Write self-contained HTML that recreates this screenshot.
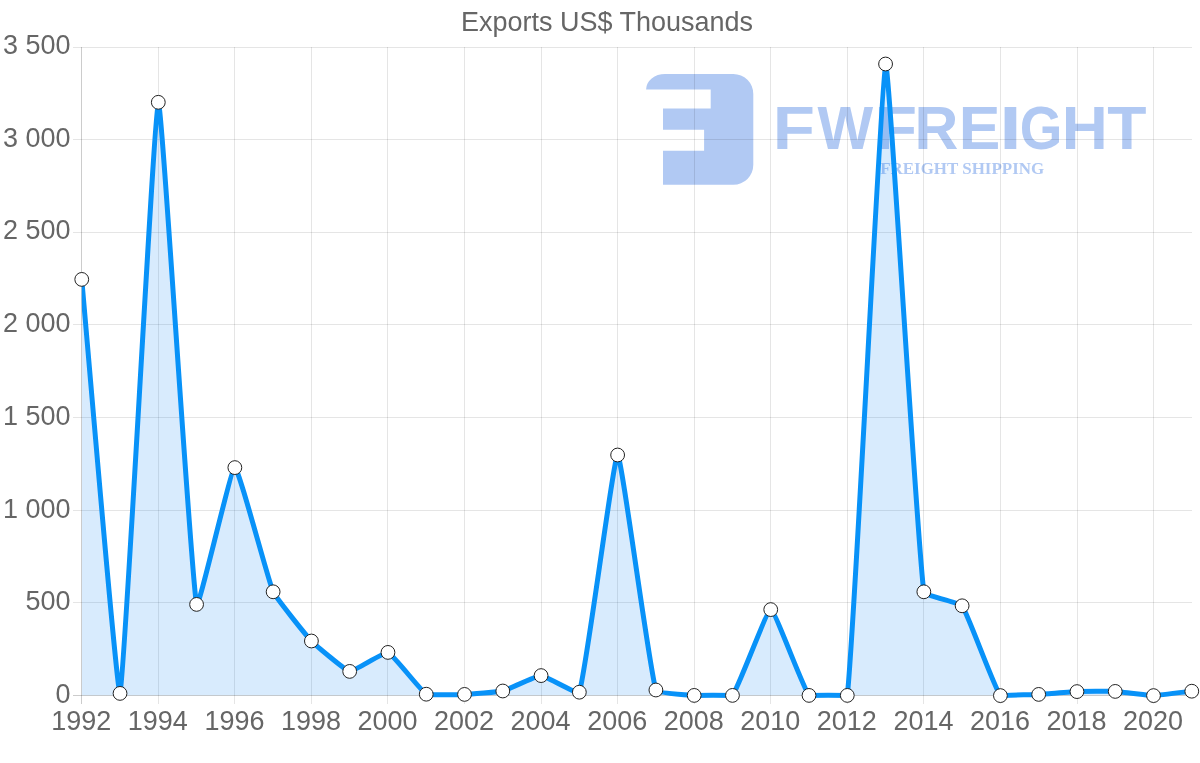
<!DOCTYPE html>
<html lang="en"><head><meta charset="utf-8"><title>Exports US$ Thousands</title>
<style>html,body{margin:0;padding:0;background:#fff;}body{width:1200px;height:763px;overflow:hidden;}svg{display:block;}text{font-family:"Liberation Sans",sans-serif;}</style></head><body>
<svg width="1200" height="763" viewBox="0 0 1200 763">
<rect width="1200" height="763" fill="#fff"/>
<g id="logo" fill="#b1c9f3">
<path d="M646.1 89.4 A19 15.5 0 0 1 665.1 73.9 L733.3 73.9 A20 20 0 0 1 753.3 93.9 L753.3 164.8 A20 20 0 0 1 733.3 184.8 L663 184.8 L663 150.8 L704.1 150.8 L704.1 129.7 L663 129.7 L663 108.6 L710.7 108.6 L710.7 89.4 Z"/>
<text id="lg1" y="149.1" font-size="61.8" font-weight="bold" style="font-family:'Liberation Sans',sans-serif"><tspan x="772.87" textLength="42.18" lengthAdjust="spacingAndGlyphs">F</tspan><tspan x="817.44" textLength="55.62" lengthAdjust="spacingAndGlyphs">W</tspan><tspan x="874.3" textLength="42.9" lengthAdjust="spacingAndGlyphs">F</tspan><tspan x="914.43" textLength="43.84" lengthAdjust="spacingAndGlyphs">R</tspan><tspan x="958.82" textLength="41.61" lengthAdjust="spacingAndGlyphs">E</tspan><tspan x="999.3" textLength="22.39" lengthAdjust="spacingAndGlyphs">I</tspan><tspan x="1019.75" textLength="42.65" lengthAdjust="spacingAndGlyphs">G</tspan><tspan x="1061.73" textLength="46.05" lengthAdjust="spacingAndGlyphs">H</tspan><tspan x="1107.29" textLength="39.21" lengthAdjust="spacingAndGlyphs">T</tspan></text>
<text id="lg2" x="880.2" y="173.8" font-size="16.6" font-weight="bold" textLength="164" lengthAdjust="spacingAndGlyphs" style="font-family:'Liberation Serif',serif">FREIGHT SHIPPING</text>
</g>
<g id="grid" shape-rendering="crispEdges" stroke-width="1" fill="none">
<line x1="73" x2="1191.78" y1="695.5" y2="695.5" stroke="rgba(0,0,0,0.2)"/>
<line x1="73" x2="1191.78" y1="602.5" y2="602.5" stroke="rgba(0,0,0,0.1)"/>
<line x1="73" x2="1191.78" y1="510.5" y2="510.5" stroke="rgba(0,0,0,0.1)"/>
<line x1="73" x2="1191.78" y1="417.5" y2="417.5" stroke="rgba(0,0,0,0.1)"/>
<line x1="73" x2="1191.78" y1="324.5" y2="324.5" stroke="rgba(0,0,0,0.1)"/>
<line x1="73" x2="1191.78" y1="232.5" y2="232.5" stroke="rgba(0,0,0,0.1)"/>
<line x1="73" x2="1191.78" y1="139.5" y2="139.5" stroke="rgba(0,0,0,0.1)"/>
<line x1="73" x2="1191.78" y1="47.5" y2="47.5" stroke="rgba(0,0,0,0.1)"/>
<line x1="81.5" x2="81.5" y1="47.3" y2="703.5" stroke="rgba(0,0,0,0.2)"/>
<line x1="158.5" x2="158.5" y1="47.3" y2="703.5" stroke="rgba(0,0,0,0.1)"/>
<line x1="234.5" x2="234.5" y1="47.3" y2="703.5" stroke="rgba(0,0,0,0.1)"/>
<line x1="311.5" x2="311.5" y1="47.3" y2="703.5" stroke="rgba(0,0,0,0.1)"/>
<line x1="387.5" x2="387.5" y1="47.3" y2="703.5" stroke="rgba(0,0,0,0.1)"/>
<line x1="464.5" x2="464.5" y1="47.3" y2="703.5" stroke="rgba(0,0,0,0.1)"/>
<line x1="541.5" x2="541.5" y1="47.3" y2="703.5" stroke="rgba(0,0,0,0.1)"/>
<line x1="617.5" x2="617.5" y1="47.3" y2="703.5" stroke="rgba(0,0,0,0.1)"/>
<line x1="694.5" x2="694.5" y1="47.3" y2="703.5" stroke="rgba(0,0,0,0.1)"/>
<line x1="770.5" x2="770.5" y1="47.3" y2="703.5" stroke="rgba(0,0,0,0.1)"/>
<line x1="847.5" x2="847.5" y1="47.3" y2="703.5" stroke="rgba(0,0,0,0.1)"/>
<line x1="923.5" x2="923.5" y1="47.3" y2="703.5" stroke="rgba(0,0,0,0.1)"/>
<line x1="1000.5" x2="1000.5" y1="47.3" y2="703.5" stroke="rgba(0,0,0,0.1)"/>
<line x1="1077.5" x2="1077.5" y1="47.3" y2="703.5" stroke="rgba(0,0,0,0.1)"/>
<line x1="1153.5" x2="1153.5" y1="47.3" y2="703.5" stroke="rgba(0,0,0,0.1)"/>
</g>
<clipPath id="clip"><rect x="81.75" y="44.3" width="1120.03" height="654.05"/></clipPath>
<g clip-path="url(#clip)">
<path d="M81.75 279.4 C85.58 320.8 116.87 695.35 120.03 693.4 C124.53 682.99 154.17 107.11 158.3 102.3 C161.82 98.21 190.61 575.91 196.58 604.4 C198.27 612.44 230.86 468.26 234.86 467.6 C238.52 467 267.96 580.08 273.13 591.8 C275.62 597.42 307.12 636.54 311.41 641 C314.78 644.5 345.6 670.79 349.69 671.4 C353.26 671.93 384.68 651.42 387.97 652.4 C392.33 653.7 421.67 691.69 426.24 694.2 C429.33 695.35 460.7 694.56 464.52 694.4 C468.36 694.24 499.11 691.91 502.8 691 C506.76 690.03 537.27 675.54 541.07 675.6 C544.92 675.66 578.22 695.35 579.35 692.2 C585.87 673.4 613.78 455.11 617.63 455 C621.44 454.89 649.32 669.32 655.9 690 C656.97 693.36 690.34 695.13 694.18 695.4 C697.99 695.35 730.24 695.35 732.46 695.4 C737.9 689.3 766.91 609.6 770.74 609.6 C774.56 609.6 803.57 689.3 809.01 695.4 C811.23 695.35 846.85 695.35 847.29 695.4 C854.51 635.86 881.4 69.64 885.57 64 C889.05 59.28 916.74 541.49 923.84 591.8 C924.39 595.67 959.87 602.74 962.12 605.8 C967.52 613.12 994.9 689.24 1000.4 695.6 C1002.56 695.35 1034.85 694.6 1038.68 694.4 C1042.51 694.2 1073.12 691.75 1076.95 691.6 C1080.77 691.45 1111.41 691.2 1115.23 691.4 C1119.07 691.6 1149.68 695.35 1153.51 695.6 C1157.33 695.35 1187.96 691.64 1191.78 691.2 L1191.78 695.35 L81.75 695.35 Z" fill="rgba(12,130,245,0.16)" stroke="none"/>
<path d="M81.75 279.4 C85.58 320.8 116.87 695.35 120.03 693.4 C124.53 682.99 154.17 107.11 158.3 102.3 C161.82 98.21 190.61 575.91 196.58 604.4 C198.27 612.44 230.86 468.26 234.86 467.6 C238.52 467 267.96 580.08 273.13 591.8 C275.62 597.42 307.12 636.54 311.41 641 C314.78 644.5 345.6 670.79 349.69 671.4 C353.26 671.93 384.68 651.42 387.97 652.4 C392.33 653.7 421.67 691.69 426.24 694.2 C429.33 695.35 460.7 694.56 464.52 694.4 C468.36 694.24 499.11 691.91 502.8 691 C506.76 690.03 537.27 675.54 541.07 675.6 C544.92 675.66 578.22 695.35 579.35 692.2 C585.87 673.4 613.78 455.11 617.63 455 C621.44 454.89 649.32 669.32 655.9 690 C656.97 693.36 690.34 695.13 694.18 695.4 C697.99 695.35 730.24 695.35 732.46 695.4 C737.9 689.3 766.91 609.6 770.74 609.6 C774.56 609.6 803.57 689.3 809.01 695.4 C811.23 695.35 846.85 695.35 847.29 695.4 C854.51 635.86 881.4 69.64 885.57 64 C889.05 59.28 916.74 541.49 923.84 591.8 C924.39 595.67 959.87 602.74 962.12 605.8 C967.52 613.12 994.9 689.24 1000.4 695.6 C1002.56 695.35 1034.85 694.6 1038.68 694.4 C1042.51 694.2 1073.12 691.75 1076.95 691.6 C1080.77 691.45 1111.41 691.2 1115.23 691.4 C1119.07 691.6 1149.68 695.35 1153.51 695.6 C1157.33 695.35 1187.96 691.64 1191.78 691.2" fill="none" stroke="#0892f8" stroke-width="5" stroke-linejoin="miter" stroke-linecap="butt"/>
</g>
<g id="pts" fill="#fff" stroke="#222" stroke-width="1">
<circle cx="81.75" cy="279.4" r="6.9"/>
<circle cx="120.03" cy="693.4" r="6.9"/>
<circle cx="158.3" cy="102.3" r="6.9"/>
<circle cx="196.58" cy="604.4" r="6.9"/>
<circle cx="234.86" cy="467.6" r="6.9"/>
<circle cx="273.13" cy="591.8" r="6.9"/>
<circle cx="311.41" cy="641" r="6.9"/>
<circle cx="349.69" cy="671.4" r="6.9"/>
<circle cx="387.97" cy="652.4" r="6.9"/>
<circle cx="426.24" cy="694.2" r="6.9"/>
<circle cx="464.52" cy="694.4" r="6.9"/>
<circle cx="502.8" cy="691" r="6.9"/>
<circle cx="541.07" cy="675.6" r="6.9"/>
<circle cx="579.35" cy="692.2" r="6.9"/>
<circle cx="617.63" cy="455" r="6.9"/>
<circle cx="655.9" cy="690" r="6.9"/>
<circle cx="694.18" cy="695.4" r="6.9"/>
<circle cx="732.46" cy="695.4" r="6.9"/>
<circle cx="770.74" cy="609.6" r="6.9"/>
<circle cx="809.01" cy="695.4" r="6.9"/>
<circle cx="847.29" cy="695.4" r="6.9"/>
<circle cx="885.57" cy="64" r="6.9"/>
<circle cx="923.84" cy="591.8" r="6.9"/>
<circle cx="962.12" cy="605.8" r="6.9"/>
<circle cx="1000.4" cy="695.6" r="6.9"/>
<circle cx="1038.68" cy="694.4" r="6.9"/>
<circle cx="1076.95" cy="691.6" r="6.9"/>
<circle cx="1115.23" cy="691.4" r="6.9"/>
<circle cx="1153.51" cy="695.6" r="6.9"/>
<circle cx="1191.78" cy="691.2" r="6.9"/>
</g>
<g id="labels" fill="#666" font-size="26.9">
<text transform="translate(607 30.7) scale(1.003 1)" text-anchor="middle">Exports US$ Thousands</text>
<text transform="translate(70.5 703.1) scale(1.003 1)" text-anchor="end">0</text>
<text transform="translate(70.5 610.37) scale(1.003 1)" text-anchor="end">500</text>
<text transform="translate(70.5 517.64) scale(1.003 1)" text-anchor="end">1 000</text>
<text transform="translate(70.5 424.91) scale(1.003 1)" text-anchor="end">1 500</text>
<text transform="translate(70.5 332.18) scale(1.003 1)" text-anchor="end">2 000</text>
<text transform="translate(70.5 239.45) scale(1.003 1)" text-anchor="end">2 500</text>
<text transform="translate(70.5 146.72) scale(1.003 1)" text-anchor="end">3 000</text>
<text transform="translate(70.5 53.99) scale(1.003 1)" text-anchor="end">3 500</text>
<text transform="translate(81.3 730) scale(1.003 1)" text-anchor="middle">1992</text>
<text transform="translate(157.85 730) scale(1.003 1)" text-anchor="middle">1994</text>
<text transform="translate(234.41 730) scale(1.003 1)" text-anchor="middle">1996</text>
<text transform="translate(310.96 730) scale(1.003 1)" text-anchor="middle">1998</text>
<text transform="translate(387.52 730) scale(1.003 1)" text-anchor="middle">2000</text>
<text transform="translate(464.07 730) scale(1.003 1)" text-anchor="middle">2002</text>
<text transform="translate(540.62 730) scale(1.003 1)" text-anchor="middle">2004</text>
<text transform="translate(617.18 730) scale(1.003 1)" text-anchor="middle">2006</text>
<text transform="translate(693.73 730) scale(1.003 1)" text-anchor="middle">2008</text>
<text transform="translate(770.29 730) scale(1.003 1)" text-anchor="middle">2010</text>
<text transform="translate(846.84 730) scale(1.003 1)" text-anchor="middle">2012</text>
<text transform="translate(923.39 730) scale(1.003 1)" text-anchor="middle">2014</text>
<text transform="translate(999.95 730) scale(1.003 1)" text-anchor="middle">2016</text>
<text transform="translate(1076.5 730) scale(1.003 1)" text-anchor="middle">2018</text>
<text transform="translate(1153.06 730) scale(1.003 1)" text-anchor="middle">2020</text>
</g>
</svg></body></html>
